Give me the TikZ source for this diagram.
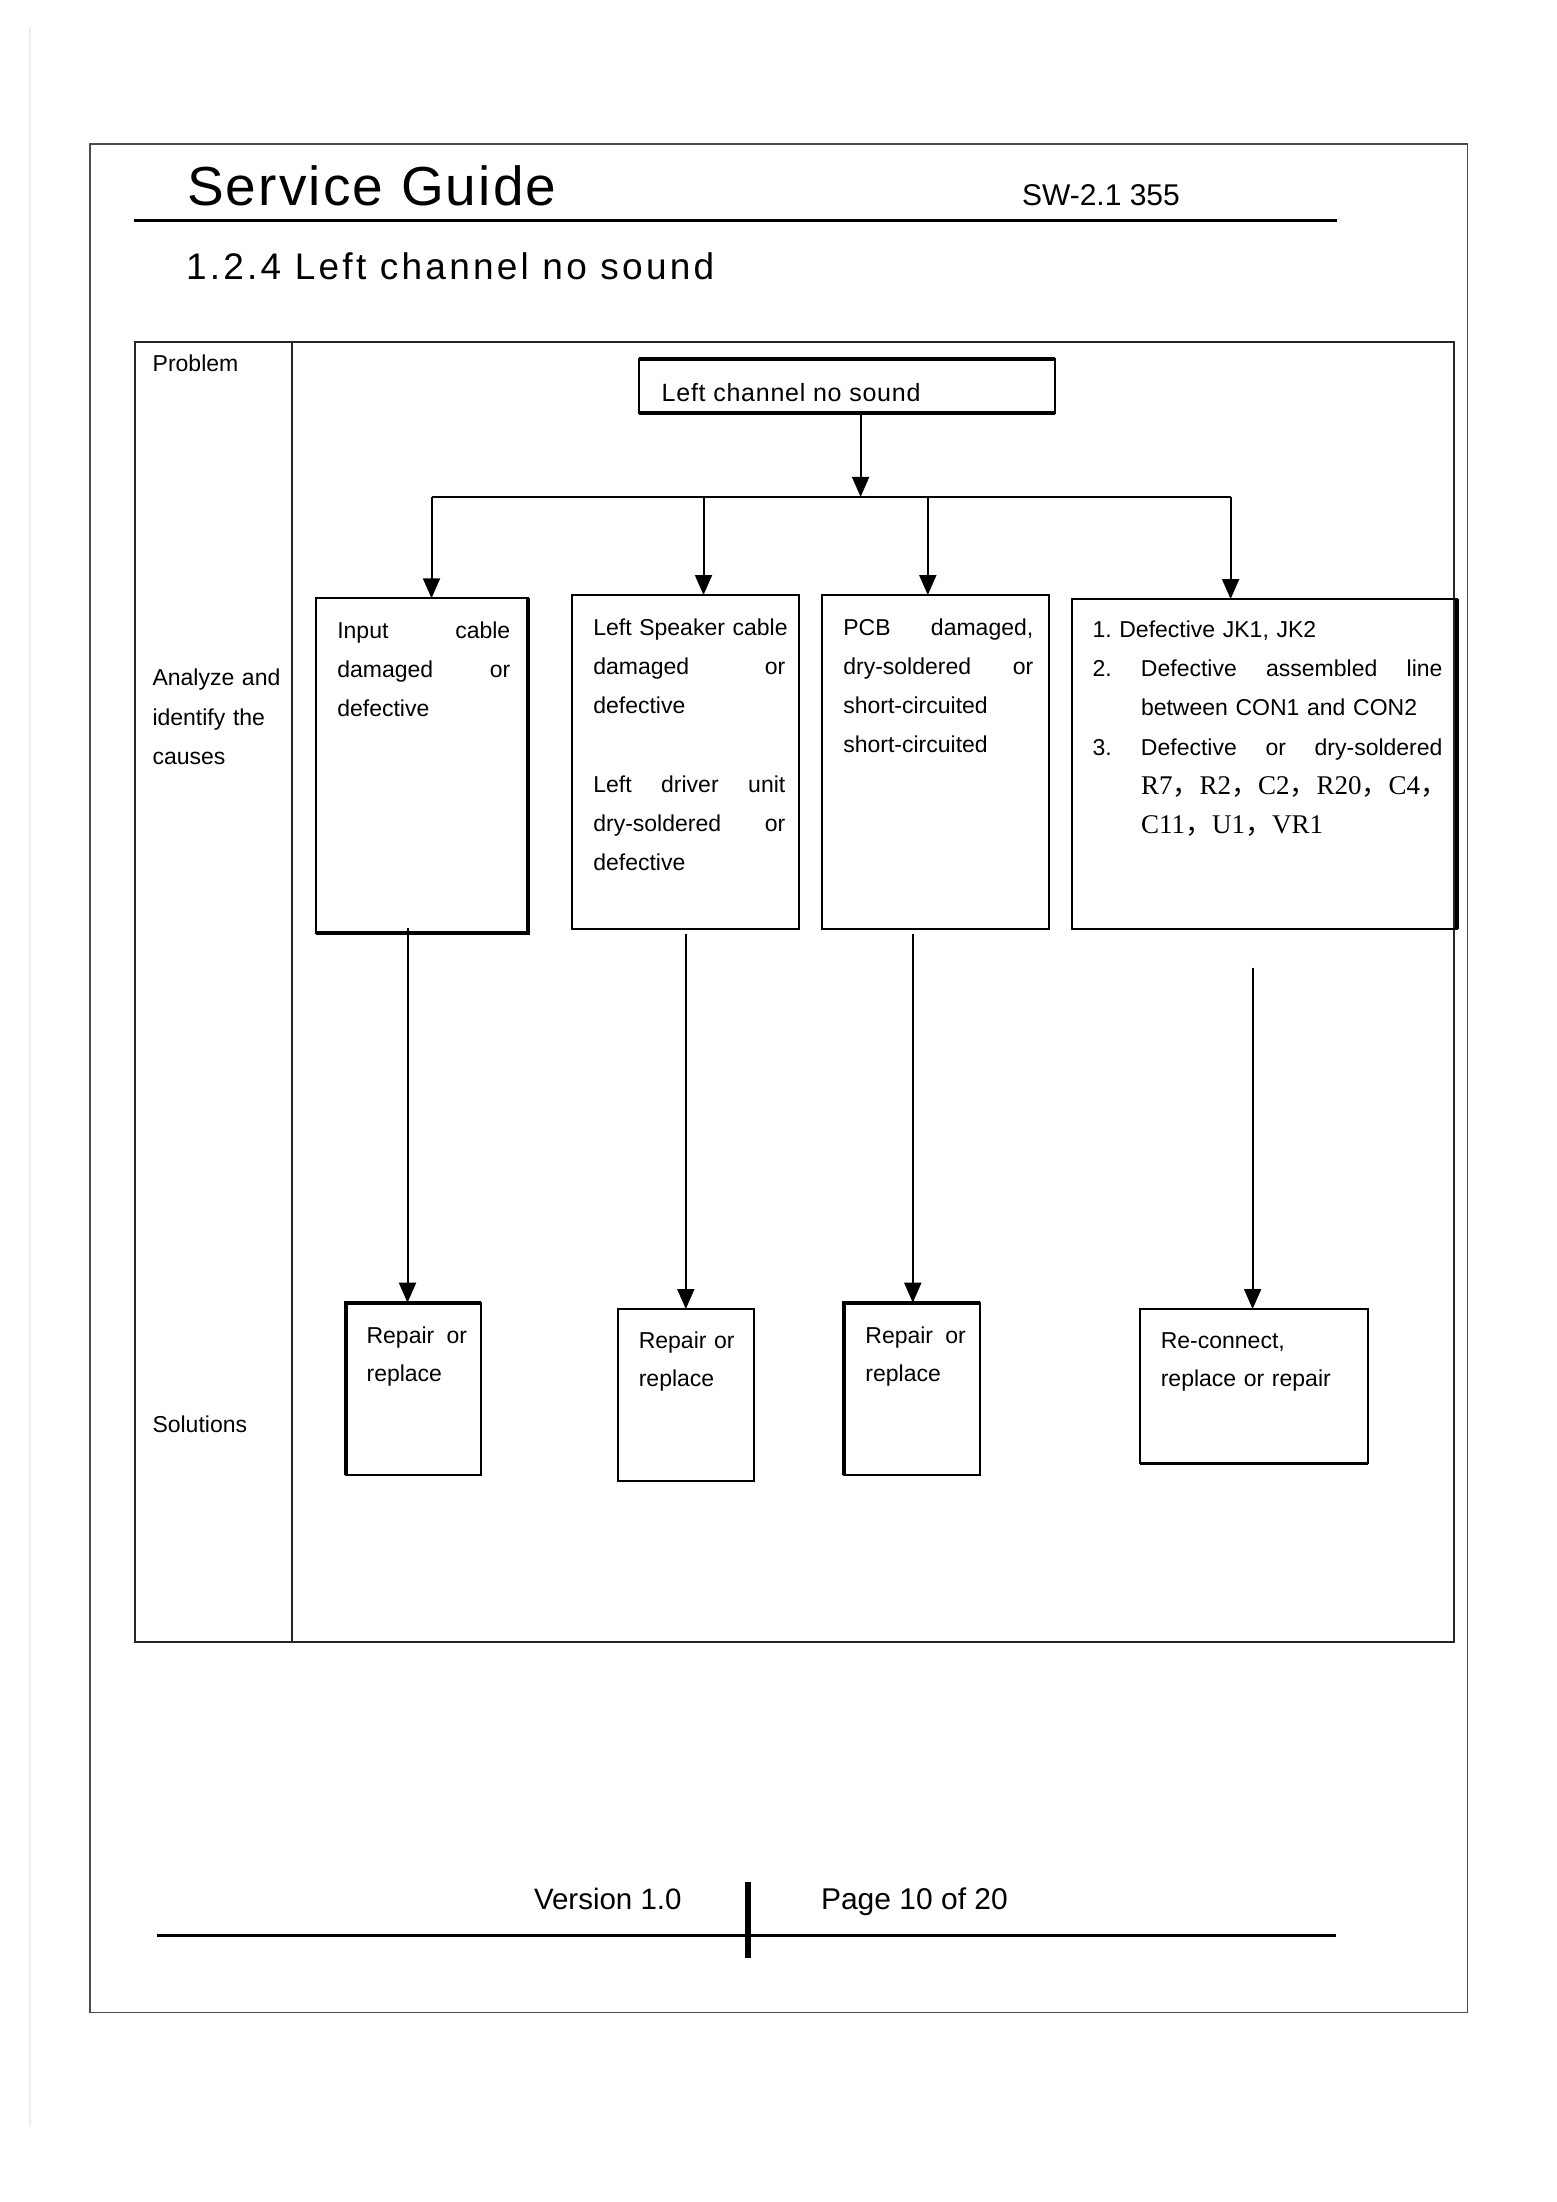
\documentclass[tikz,border=0pt]{standalone}
\usepackage{fontspec}
\setmainfont{Liberation Sans}
\newfontfamily\serifR{Liberation Serif}
\newfontfamily\cjkF{Noto Sans CJK SC}
\usetikzlibrary{arrows.meta}
\newcommand\fwc{{\cjkF\fontsize{27}{39.3}\selectfont ，}}
\frenchspacing
\hyphenpenalty=10000
\begin{document}
\begin{tikzpicture}[x=1pt,y=-1pt,
  every node/.style={inner sep=0pt, outer sep=0pt},
  box/.style={draw=black, line width=2pt, anchor=north west},
  thk/.style={line width=4pt},
  lin/.style={line width=2pt},
  arr/.style={line width=2pt, -{Triangle[width=17pt,length=20pt]}},
  body/.style={font=\fontsize{23}{39.3}\selectfont, anchor=base west, align=left},
  sol/.style={font=\fontsize{23}{38.4}\selectfont, anchor=base west, align=left},
  ]
\useasboundingbox (0,0) rectangle (1556,2202);
\fill[white] (0,0) rectangle (1556,2202);
% faint page edge and page frame
\draw[line width=2pt, draw=black!7] (29.5,28) -- (29.5,2127);
\draw[line width=1.5pt, draw=black!70] (90,144) rectangle (1467.5,2012.7);
% header
\node[anchor=base west, font=\fontsize{55}{60}\selectfont\addfontfeatures{LetterSpace=4}] (title) at (187,206) {Service Guide};
\node[anchor=base west, font=\fontsize{30}{32}\selectfont] (model) at (1022,206) {SW-2.1 355};
\draw[line width=3.5pt] (133.5,220.7) -- (1337,220.7);
\node[anchor=base west, font=\fontsize{37}{40}\selectfont\addfontfeatures{LetterSpace=8.8}] (sect) at (186,279) {1.2.4 Left channel no sound};
% table
\draw[line width=2pt, draw=black!85] (135,342) rectangle (1453.5,1641.6);
\draw[line width=2pt, draw=black!85] (292,342) -- (292,1641.6);
\node[body, text width=130pt] (lprob) at (152.7,371.5) {Problem};
\node[body, text width=130pt] (lanal) at (152.5,685.7) {Analyze and\\identify the\\causes};
\node[body, text width=130pt] (lsol) at (152.5,1432) {Solutions};
% problem box
\node[box, minimum width=415.7pt, minimum height=53.4pt] (pb) at (639.3,359.3) {};
\draw[thk] (pb.north west) -- (pb.north east);
\draw[thk] (pb.south west) -- (pb.south east);
\node[anchor=base west, font=\fontsize{25}{28}\selectfont\addfontfeatures{LetterSpace=3}] (pt) at (661.7,401) {Left channel no sound};
% cause boxes
\node[box, minimum width=211.2pt, minimum height=334.4pt] (c1) at (316.4,598.3) {};
\draw[thk] (c1.north east) -- (c1.south east) -- (c1.south west);
\node[box, minimum width=226.1pt, minimum height=334.3pt] (c2) at (572.4,595) {};
\node[box, minimum width=226.1pt, minimum height=334pt] (c3) at (822.4,595) {};
\node[box, minimum width=384.3pt, minimum height=330pt] (c4) at (1072.4,599) {};
\draw[thk] (c4.north east) -- (c4.south east);
\node[body, text width=173pt] (t1) at (337.3,638) {Input\hfill cable\\damaged\hfill or\\defective};
\node[body, text width=192pt] (t2) at (593.3,635) {\mbox{Left Speaker cable}\\damaged\hfill or\\defective\\[39.3pt]Left\hfill driver\hfill unit\\dry-soldered\hfill or\\defective};
\node[body, text width=190pt] (t3) at (843.3,635) {PCB\hfill damaged,\\dry-soldered\hfill or\\short-circuited\\short-circuited};
\node[body, text width=350pt] (t4) at (1092.5,637.3) {1. Defective JK1, JK2\\
\makebox[48.5pt][l]{2.}Defective\hfill assembled\hfill line\\
\hspace*{48.5pt}between CON1 and CON2\\
\makebox[48.5pt][l]{3.}Defective\hfill or\hfill dry-soldered\\
\hspace*{48.5pt}{\serifR\fontsize{27}{39.3}\selectfont R7\fwc R2\fwc C2\fwc R20\fwc C4\fwc}\\
\hspace*{48.5pt}{\serifR\fontsize{27}{39.3}\selectfont C11\fwc U1\fwc VR1}};
% solution boxes
\node[box, minimum width=135.4pt, minimum height=172.3pt] (s1) at (345.6,1302.7) {};
\draw[thk] (s1.south west) -- (s1.north west) -- (s1.north east);
\node[box, minimum width=136.1pt, minimum height=171.7pt] (s2) at (617.8,1309) {};
\node[box, minimum width=136pt, minimum height=172.3pt] (s3) at (844,1302.7) {};
\draw[thk] (s3.south west) -- (s3.north west) -- (s3.north east);
\node[box, minimum width=228pt, minimum height=154pt] (s4) at (1139.7,1309) {};
\draw[line width=3pt] (s4.south west) -- (s4.south east);
\node[sol, text width=110pt] (u1) at (366.6,1343.3) {Repair\hspace{0.2em} or\\replace};
\node[sol, text width=110pt] (u2) at (638.8,1348.3) {Repair or\\replace};
\node[sol, text width=110pt] (u3) at (865.4,1343.3) {Repair\hspace{0.2em} or\\replace};
\node[sol, text width=200pt] (u4) at (1160.8,1348.3) {Re-connect,\\replace or repair};
% connectors
\coordinate (bus) at (860.6,496.9);
\coordinate (busL) at (431.5,496.9);
\coordinate (busR) at (1230.6,496.9);
\coordinate (d2) at (703.5,496.9);
\coordinate (d3) at (927.8,496.9);
\draw[arr] (pb.south -| bus) -- (bus);
\draw[lin] (busL) -- (busR);
\draw[arr] (busL) -- (busL |- c1.north);
\draw[arr] (d2) -- (d2 |- c2.north);
\draw[arr] (d3) -- (d3 |- c3.north);
\draw[arr] (busR) -- (busR |- c4.north);
\coordinate (v1) at (407.5,928);
\coordinate (v2) at (685.8,934);
\coordinate (v3) at (912.8,934);
\coordinate (v4) at (1252.6,967.5);
\draw[arr] (v1) -- (v1 |- s1.north);
\draw[arr] (v2) -- (v2 |- s2.north);
\draw[arr] (v3) -- (v3 |- s3.north);
\draw[arr] (v4) -- (v4 |- s4.north);
% footer
\node[anchor=base west, font=\fontsize{29.5}{32}\selectfont] (ver) at (534,1909.3) {Version 1.0};
\node[anchor=base west, font=\fontsize{30}{32}\selectfont] (pg) at (821,1909.3) {Page 10 of 20};
\draw[line width=3.5pt] (157,1935.7) -- (1336,1935.7);
\draw[line width=6pt] (747.6,1881.7) -- (747.6,1958.3);
\end{tikzpicture}
\end{document}
